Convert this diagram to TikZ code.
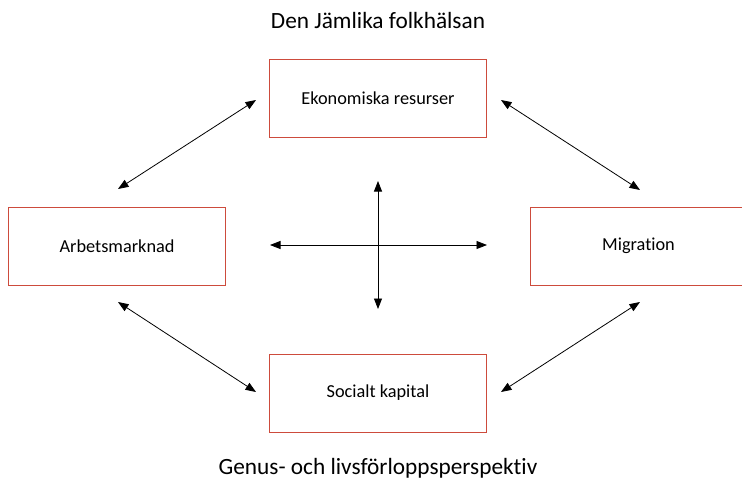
\documentclass[tikz,border=0pt]{standalone}
\usepackage{fontspec}
\setmainfont{Carlito}[Ligatures=NoCommon]
\usetikzlibrary{arrows.meta}
\definecolor{boxred}{RGB}{205,75,60}
\tikzset{
  box/.style={draw=boxred, line width=0.9pt, minimum width=217pt, minimum height=78pt, inner sep=0pt, font=\fontsize{18.3}{20}\selectfont},
  link/.style={line width=0.8pt, {Triangle[length=10.5pt,width=8pt]}-{Triangle[length=10.5pt,width=8pt]}},
  heading/.style={font=\fontsize{23.3}{26}\selectfont}
}
\begin{document}
\begin{tikzpicture}[x=1pt,y=-1pt]
\useasboundingbox (0,0) rectangle (742,483);
\node[heading] (title) at (378,20) {Den Jämlika folkhälsan};
\node[heading] (foot) at (378,468) {Genus- och livsförloppsperspektiv};
\node[box] (eko) at (378,98) {Ekonomiska resurser};
\node[box] (arb) at (117,246) {Arbetsmarknad};
\node[box] (mig) at (638.5,246) {Migration};
\node[box] (soc) at (378,393) {Socialt kapital};
\coordinate (tl1) at (118,189);
\coordinate (tl2) at (256,100);
\coordinate (tr1) at (501,100);
\coordinate (tr2) at (640,190);
\coordinate (bl1) at (118,302);
\coordinate (bl2) at (256,392);
\coordinate (br1) at (501,392);
\coordinate (br2) at (640,302);
\coordinate (h1) at (270,245);
\coordinate (h2) at (487,245);
\coordinate (v1) at (378,181);
\coordinate (v2) at (378,309);
\draw[link] (tl1) -- (tl2);
\draw[link] (tr1) -- (tr2);
\draw[link] (bl1) -- (bl2);
\draw[link] (br1) -- (br2);
\draw[link] (h1) -- (h2);
\draw[link] (v1) -- (v2);
\end{tikzpicture}
\end{document}
